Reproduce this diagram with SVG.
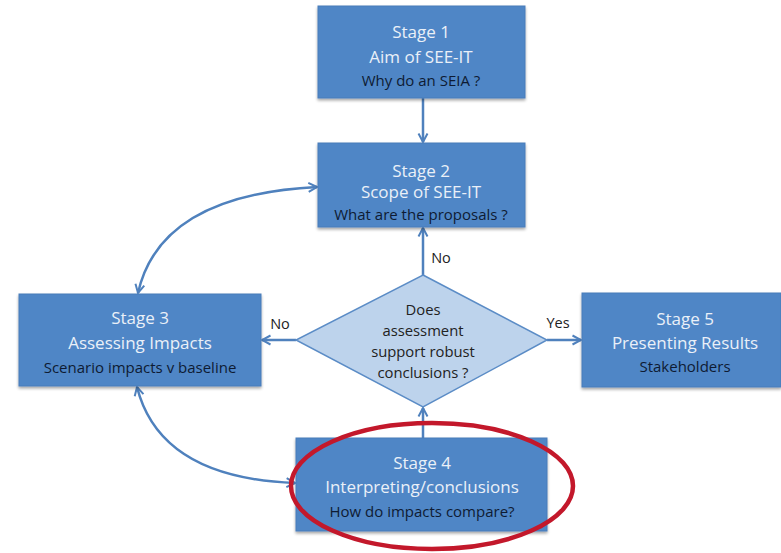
<svg xmlns="http://www.w3.org/2000/svg" width="781" height="553" viewBox="0 0 781 553">
<defs>
<marker id="ah" viewBox="0 0 12 12" refX="10.5" refY="6" markerWidth="12" markerHeight="12" markerUnits="userSpaceOnUse" orient="auto-start-reverse">
<path d="M2,1.5 L10.5,6 L2,10.5" fill="none" stroke="#4f81bd" stroke-width="2" stroke-linejoin="miter"/>
</marker>
<filter id="sh" x="-10%" y="-10%" width="125%" height="130%">
<feGaussianBlur in="SourceAlpha" stdDeviation="1.5"/>
<feOffset dx="0" dy="2" result="b"/>
<feComponentTransfer><feFuncA type="linear" slope="0.35"/></feComponentTransfer>
<feMerge><feMergeNode/><feMergeNode in="SourceGraphic"/></feMerge>
</filter>
</defs>
<style>
.box{fill:#4f86c6;stroke:#4a7dba;stroke-width:1;filter:url(#sh)}
.t1{font-family:"Open Sans","Liberation Sans",sans-serif;font-size:17px;fill:#eaf0f8;text-anchor:middle}
.t2{font-family:"Open Sans","Liberation Sans",sans-serif;font-size:15px;fill:#0e1b33;text-anchor:middle}
.dt{font-family:"Open Sans","Liberation Sans",sans-serif;font-size:14.8px;fill:#222;text-anchor:middle}
.lb{font-family:"Open Sans","Liberation Sans",sans-serif;font-size:14.5px;fill:#222;text-anchor:middle}
.cn{fill:none;stroke:#4f81bd;stroke-width:2.5}
</style>
<rect width="781" height="553" fill="#ffffff"/>
<g id="connectors">
<line class="cn" x1="423" y1="98" x2="423" y2="142" marker-end="url(#ah)"/>
<line class="cn" x1="423" y1="275" x2="423" y2="228" marker-end="url(#ah)"/>
<line class="cn" x1="296" y1="340" x2="262" y2="340" marker-end="url(#ah)"/>
<line class="cn" x1="547" y1="340" x2="581" y2="340" marker-end="url(#ah)"/>
<line class="cn" x1="423" y1="438" x2="423" y2="408" marker-end="url(#ah)"/>
<path class="cn" d="M138,293 Q160,195 317,187" marker-start="url(#ah)" marker-end="url(#ah)"/>
<path class="cn" d="M137,387 Q160,478 295,483" marker-start="url(#ah)" marker-end="url(#ah)"/>
<text class="lb" x="441" y="263">No</text>
<text class="lb" x="280" y="329">No</text>
<text class="lb" x="558" y="328">Yes</text>
</g>
<g id="stage1">
<rect class="box" x="318" y="6" width="207" height="92"/>
<text class="t1" x="421" y="38">Stage 1</text>
<text class="t1" x="421" y="63">Aim of SEE-IT</text>
<text class="t2" x="421" y="86">Why do an SEIA ?</text>
</g>
<g id="stage2">
<rect class="box" x="318" y="143" width="207" height="84"/>
<text class="t1" x="421" y="177">Stage 2</text>
<text class="t1" x="421" y="198">Scope of SEE-IT</text>
<text class="t2" x="421" y="220">What are the proposals ?</text>
</g>
<g id="stage3">
<rect class="box" x="19" y="294" width="242" height="92"/>
<text class="t1" x="140" y="324">Stage 3</text>
<text class="t1" x="140" y="349">Assessing Impacts</text>
<text class="t2" x="140" y="373">Scenario impacts v baseline</text>
</g>
<g id="decision">
<polygon points="423,275 547,340 423,407 296,340" fill="#bdd3ec" stroke="#5b8cc6" stroke-width="1.5"/>
<text class="dt" x="423" y="315">Does</text>
<text class="dt" x="423" y="336">assessment</text>
<text class="dt" x="423" y="357">support robust</text>
<text class="dt" x="423" y="378">conclusions ?</text>
</g>
<g id="stage5">
<rect class="box" x="582" y="293" width="199" height="94"/>
<text class="t1" x="685" y="325">Stage 5</text>
<text class="t1" x="685" y="349">Presenting Results</text>
<text class="t2" x="685" y="372">Stakeholders</text>
</g>
<g id="stage4">
<rect class="box" x="296" y="438" width="251" height="93"/>
<text class="t1" x="422" y="469">Stage 4</text>
<text class="t1" x="422" y="493">Interpreting/conclusions</text>
<text class="t2" x="422" y="517">How do impacts compare?</text>
</g>
<g id="highlight">
<ellipse cx="432" cy="486" rx="141" ry="63" fill="none" stroke="#c3182b" stroke-width="4.5"/>
</g>
</svg>
